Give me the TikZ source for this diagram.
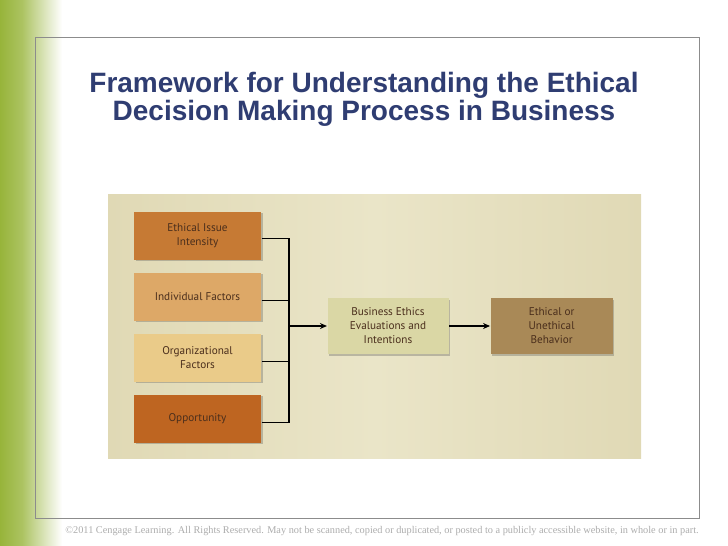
\documentclass[tikz,border=0pt]{standalone}
\usepackage{fontspec}
\setmainfont{Liberation Serif}
\newfontfamily\titlefont{Liberation Sans}
\newfontfamily\boxfont{PT Sans}
\usetikzlibrary{positioning,shadows,arrows.meta}
\definecolor{titleblue}{HTML}{2F3D72}
\definecolor{leafgreen}{HTML}{97B43A}
\definecolor{framegray}{HTML}{8C8C8C}
\definecolor{footgray}{HTML}{ACACAC}
\definecolor{panel}{HTML}{EAE5C8}
\definecolor{panelrim}{HTML}{E0D9B5}
\definecolor{issue}{HTML}{C67A34}
\definecolor{indiv}{HTML}{DDA867}
\definecolor{organ}{HTML}{EACB89}
\definecolor{oppor}{HTML}{BE6521}
\definecolor{evalu}{HTML}{DAD7A5}
\definecolor{behav}{HTML}{A98957}
\definecolor{boxtext}{HTML}{4A2E1C}

\begin{document}
\begin{tikzpicture}[x=1pt, y=-1pt, node distance=12pt, line width=1.1pt,
                    main node/.style={rectangle,minimum width=127pt,minimum height=48pt,align=center,
                    inner sep=2pt,text=boxtext,font=\boxfont\fontsize{11.2}{14}\selectfont,
                    drop shadow={shadow xshift=1.5pt,shadow yshift=-1.5pt,opacity=.3,fill=black!70}}]

\useasboundingbox (0,0) rectangle (728,546);
\shade[left color=leafgreen, right color=leafgreen!80!white] (0,0) rectangle (22,546);
\shade[left color=leafgreen!80!white, right color=white] (22,0) rectangle (62,546);
\draw[framegray, line width=0.8pt] (35,37) rectangle (699,518);

\node[font=\titlefont\bfseries\fontsize{28}{28}\selectfont, text=titleblue, align=center] (title) at (364,99)
  {Framework for Understanding the Ethical\\Decision Making Process in Business};

\shade[left color=panelrim, right color=panelrim, middle color=panel] (108,194) rectangle (641,458);

\node[main node,fill=issue] (1) at (197.5,235.5) {Ethical Issue\\Intensity};
  \node[main node,fill=indiv] (2) [below=of 1] {Individual Factors};
    \node[main node,fill=organ] (3) [below=of 2] {Organizational\\Factors};
      \node[main node,fill=oppor] (4) [below=of 3] {Opportunity};
        \node[main node,fill=evalu,minimum width=121pt,minimum height=56pt] (5) at (388,326) {Business Ethics\\Evaluations and\\Intentions};
          \node[main node,fill=behav,minimum width=122pt,minimum height=56pt] (6) [right=41pt of 5] {Ethical or\\Unethical\\Behavior};

\coordinate (j) at ([xshift=-38pt]5.west);
\draw ([yshift=-3pt]1.east) -| (j);
\draw ([yshift=-4pt]2.east) -| (j);
\draw ([yshift=-4pt]3.east) -| (j);
\draw ([yshift=-4pt]4.east) -| (j);
\draw[-{Stealth[length=7pt,width=6pt]}] (j) -- (5);
\draw[-{Stealth[length=7pt,width=6pt]}] (5) -- (6);

\node[font=\fontsize{10.3}{12}\selectfont, text=footgray] (foot) at (382,531)
  {\textcopyright2011 Cengage Learning. All Rights Reserved. May not be scanned, copied or duplicated, or posted to a publicly accessible website, in whole or in part.};

\end{tikzpicture}
\end{document}
